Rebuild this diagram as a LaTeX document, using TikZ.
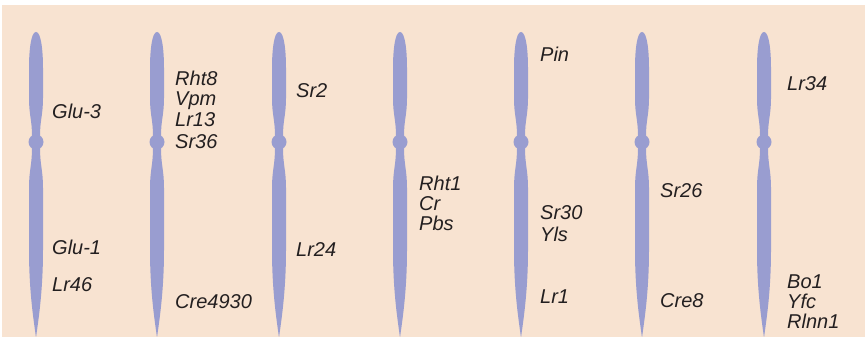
\documentclass[tikz,border=0pt]{standalone}
\usepackage{fontspec}
\setmainfont{Liberation Sans}
\usepackage{tikz}

\definecolor{paper}{HTML}{F8E3D1}
\definecolor{chromo}{HTML}{999DD0}
\definecolor{ink}{HTML}{231F20}

\tikzset{
  gene/.style={anchor=base west, inner sep=0pt, text=ink,
    font=\fontsize{20}{21}\selectfont\itshape},
}

\begin{document}
\begin{tikzpicture}[x=1pt, y=-1pt]
  \useasboundingbox (0,0) rectangle (865,337);
  \fill[paper] (2,5) rectangle (865,337);

  % the seven chromosomes, centromere at y = 142
  \foreach \cx in {36,157,279,400,521,642,764} {
    \begin{scope}[xshift=\cx pt]
      % short arm
      \fill[chromo] (0,32) .. controls (5,32) and (7,50) .. (7,68) -- (7,98)
        .. controls (7,115) and (4,120) .. (4,136) -- (-4,136)
        .. controls (-4,120) and (-7,115) .. (-7,98) -- (-7,68)
        .. controls (-7,50) and (-5,32) .. (0,32);
      % centromere
      \fill[chromo] (0,142) circle (7.5);
      % long arm
      \fill[chromo] (4,148) .. controls (4,165) and (7,170) .. (7,188) -- (7,250)
        .. controls (7,295) and (1.5,325) .. (0,338)
        .. controls (-1.5,325) and (-7,295) .. (-7,250) -- (-7,188)
        .. controls (-7,170) and (-4,165) .. (-4,148) -- cycle;
    \end{scope}
  }

  % 1
  \node[gene] (glu3) at (52,118) {Glu-3};
  \node[gene] (glu1) at (52,254) {Glu-1};
  \node[gene] (lr46) at (52,291) {Lr46};

  % 2
  \node[gene] (rht8) at (175,85) {Rht8};
  \node[gene] (vpm) at (175,106) {Vpm};
  \node[gene] (lr13) at (175,126) {Lr13};
  \node[gene] (sr36) at (175,148) {Sr36};
  \node[gene] (cre4930) at (175,308) {Cre4930};

  % 3
  \node[gene] (sr2) at (296,98) {Sr2};
  \node[gene] (lr24) at (296,256) {Lr24};

  % 4
  \node[gene] (rht1) at (419,190) {Rht1};
  \node[gene] (cr) at (419,210) {Cr};
  \node[gene] (pbs) at (419,230) {Pbs};

  % 5
  \node[gene] (pin) at (540,62) {Pin};
  \node[gene] (sr30) at (540,219) {Sr30};
  \node[gene] (yls) at (540,241) {Yls};
  \node[gene] (lr1) at (540,303) {Lr1};

  % 6
  \node[gene] (sr26) at (660,197) {Sr26};
  \node[gene] (cre8) at (660,307) {Cre8};

  % 7
  \node[gene] (lr34) at (787,90) {Lr34};
  \node[gene] (bo1) at (787,288) {Bo1};
  \node[gene] (yfc) at (787,308) {Yfc};
  \node[gene] (rlnn1) at (787,328) {Rlnn1};
\end{tikzpicture}
\end{document}
